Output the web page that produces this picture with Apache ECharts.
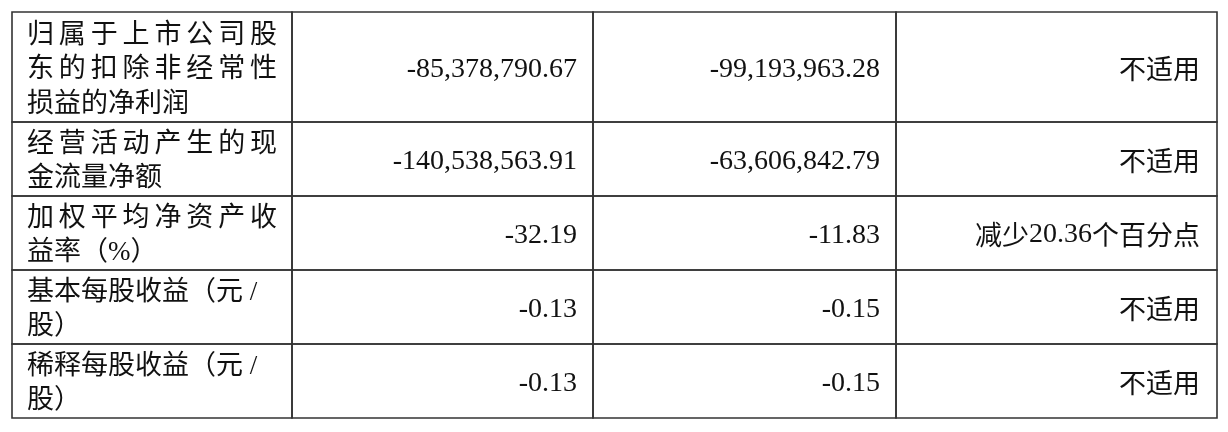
<!DOCTYPE html>
<html>
<head>
<meta charset="utf-8">
<script src="https://cdn.jsdelivr.net/npm/echarts@6/dist/echarts.min.js"></script>
<style>
  html, body { margin: 0; padding: 0; background: #fff; }
  #chart { width: 1228px; height: 432px; }
</style>
</head>
<body>
<div id="chart"></div>
<script>
// ---- data ----
const rowLabels = [
  ['归属于上市公司股', '东的扣除非经常性', '损益的净利润'],
  ['经营活动产生的现', '金流量净额'],
  ['加权平均净资产收', '益率（%）'],
  ['基本每股收益（元 /', '股）'],
  ['稀释每股收益（元 /', '股）']
];
const currentValues = [-85378790.67, -140538563.91, -32.19, -0.13, -0.13];
const priorValues = [-99193963.28, -63606842.79, -11.83, -0.15, -0.15];
const changeNotes = ['不适用', '不适用', '减少20.36个百分点', '不适用', '不适用'];

// ---- layout (axis units) ----
const colEdges = [0, 280, 581, 884, 1205];
const rowEdges = [0, 110, 184, 258, 332, 406];

const CJK_FONT = '"Noto Sans CJK SC"';
const SERIF = '"Liberation Serif"';
const TEXT_COLOR = '#111';
const LINE_COLOR = '#333';

function fmt(v) {
  return v.toLocaleString('en-US', { minimumFractionDigits: 2, maximumFractionDigits: 2 });
}

const cells = [];
for (let r = 0; r < rowLabels.length; r++) {
  for (let c = 0; c < 4; c++) cells.push([c, r]);
}

function richNote(s) {
  return s.replace(/([0-9.]+)|([^0-9.]+)/g, (m, num, other) =>
    num ? '{n|' + num + '}' : '{c|' + other + '}');
}

function renderItem(params, api) {
  const c = api.value(0), r = api.value(1);
  const p0 = api.coord([colEdges[c], rowEdges[r]]);
  const p1 = api.coord([colEdges[c + 1], rowEdges[r + 1]]);
  const x0 = p0[0], y0 = p0[1], x1 = p1[0], y1 = p1[1];
  const cy = (y0 + y1) / 2;
  const children = [{
    type: 'rect',
    shape: { x: x0, y: y0, width: x1 - x0, height: y1 - y0 },
    style: { fill: 'transparent', stroke: LINE_COLOR, lineWidth: 1.6 }
  }];
  if (c === 0) {
    const lines = rowLabels[r];
    const n = lines.length;
    const lh = 34.5;
    const L = x0 + 15, R = x1 - 15;
    const font = '27px ' + SERIF + ', ' + CJK_FONT;
    lines.forEach((line, i) => {
      const ly = cy + 3 + (i - (n - 1) / 2) * lh;
      const justify = i < n - 1 && /^[\u4e00-\u9fff]+$/.test(line);
      if (justify) {
        const chars = Array.from(line);
        const w = 27;
        const gap = (R - L - chars.length * w) / (chars.length - 1);
        chars.forEach((ch, k) => {
          children.push({
            type: 'text', x: L + w / 2 + k * (w + gap), y: ly,
            style: { text: ch, font: font, fill: TEXT_COLOR, align: 'center', verticalAlign: 'middle' }
          });
        });
      } else {
        children.push({
          type: 'text', x: L, y: ly,
          style: { text: line, font: font, fill: TEXT_COLOR, align: 'left', verticalAlign: 'middle' }
        });
      }
    });
  } else if (c === 1 || c === 2) {
    const v = c === 1 ? currentValues[r] : priorValues[r];
    children.push({
      type: 'text', x: x1 - 16, y: cy + 3,
      style: { text: fmt(v), font: '28px ' + SERIF, fill: TEXT_COLOR, align: 'right', verticalAlign: 'middle' }
    });
  } else {
    children.push({
      type: 'text', x: x1 - 17, y: cy + 2,
      style: {
        text: richNote(changeNotes[r]), fill: TEXT_COLOR, align: 'right', verticalAlign: 'middle',
        rich: {
          c: { fontFamily: CJK_FONT, fontSize: 27, fill: TEXT_COLOR },
          n: { fontFamily: SERIF, fontSize: 28, fill: TEXT_COLOR }
        }
      }
    });
  }
  return { type: 'group', children: children };
}

const chart = echarts.init(document.getElementById('chart'), null, { renderer: 'canvas' });
chart.setOption({
  animation: false,
  backgroundColor: '#fff',
  grid: { left: 12, top: 12, right: 11, bottom: 14 },
  xAxis: { type: 'value', min: colEdges[0], max: colEdges[colEdges.length - 1], show: false },
  yAxis: { type: 'value', min: rowEdges[0], max: rowEdges[rowEdges.length - 1], inverse: true, show: false },
  series: [{
    type: 'custom',
    renderItem: renderItem,
    data: cells,
    clip: false
  }]
});
</script>
</body>
</html>
